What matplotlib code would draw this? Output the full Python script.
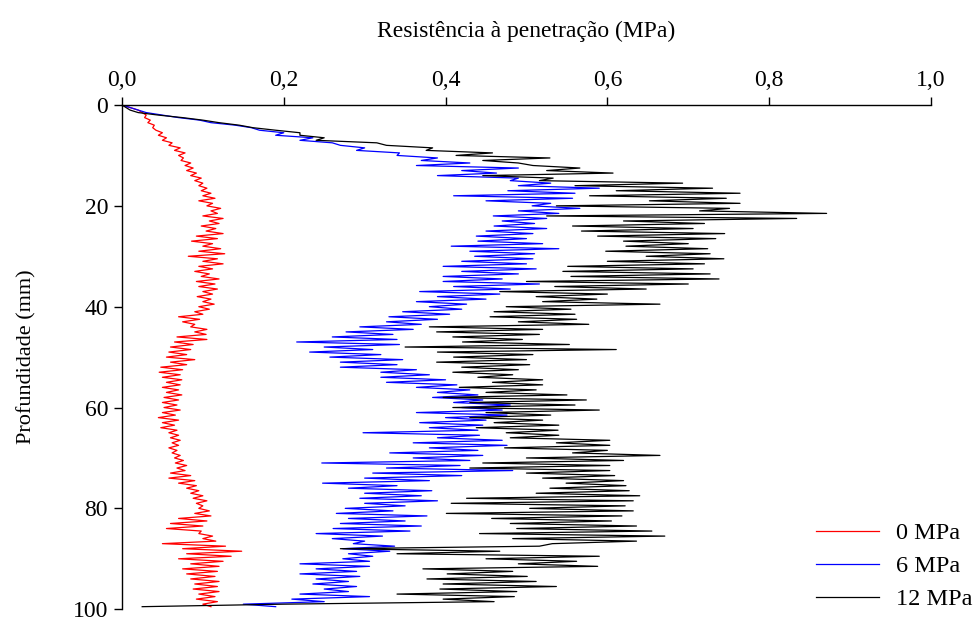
import numpy as np
import matplotlib
matplotlib.use('Agg')
import matplotlib.pyplot as plt

plt.rcParams['font.family'] = ['Liberation Serif', 'DejaVu Serif']

# profundidade (mm), passo de 0,5 mm
prof = np.arange(0, 100, 0.5)

# 0 MPa
r0 = [0.0, 0.01, 0.02, 0.025, 0.03, 0.028, 0.035, 0.032, 0.04, 0.038,
      0.042, 0.05, 0.045, 0.055, 0.05, 0.062, 0.058, 0.072, 0.065, 0.078,
      0.07, 0.076, 0.073, 0.085, 0.078, 0.088, 0.08, 0.092, 0.085, 0.098,
      0.09, 0.1, 0.095, 0.105, 0.098, 0.11, 0.1, 0.115, 0.095, 0.112,
      0.105, 0.122, 0.11, 0.118, 0.1, 0.125, 0.108, 0.12, 0.098, 0.116,
      0.104, 0.125, 0.092, 0.118, 0.086, 0.112, 0.1, 0.122, 0.095, 0.127,
      0.082, 0.118, 0.1, 0.125, 0.095, 0.112, 0.09, 0.108, 0.098, 0.12,
      0.092, 0.115, 0.095, 0.118, 0.1, 0.112, 0.093, 0.11, 0.1, 0.114,
      0.095, 0.108, 0.09, 0.1, 0.07, 0.096, 0.075, 0.09, 0.085, 0.105,
      0.09, 0.104, 0.068, 0.105, 0.065, 0.088, 0.06, 0.085, 0.058, 0.08,
      0.055, 0.09, 0.06, 0.08, 0.048, 0.075, 0.046, 0.072, 0.05, 0.074,
      0.055, 0.072, 0.05, 0.07, 0.055, 0.074, 0.052, 0.07, 0.05, 0.068,
      0.052, 0.072, 0.05, 0.066, 0.045, 0.07, 0.05, 0.065, 0.048, 0.068,
      0.058, 0.07, 0.06, 0.072, 0.062, 0.07, 0.058, 0.068, 0.062, 0.072,
      0.065, 0.076, 0.066, 0.08, 0.068, 0.078, 0.06, 0.085, 0.058, 0.09,
      0.07, 0.092, 0.08, 0.095, 0.085, 0.1, 0.088, 0.105, 0.092, 0.1,
      0.095, 0.108, 0.09, 0.11, 0.07, 0.105, 0.06, 0.1, 0.055, 0.098,
      0.095, 0.112, 0.1, 0.116, 0.05, 0.128, 0.075, 0.148, 0.08, 0.135,
      0.07, 0.125, 0.085, 0.12, 0.075, 0.118, 0.08, 0.115, 0.085, 0.12,
      0.09, 0.118, 0.088, 0.12, 0.095, 0.115, 0.092, 0.118, 0.1, 0.11]

# 6 MPa
r6 = [0.0, 0.01, 0.02, 0.03, 0.05, 0.07, 0.096, 0.11, 0.14, 0.16,
      0.17, 0.2, 0.19, 0.236, 0.22, 0.26, 0.27, 0.30, 0.29, 0.343,
      0.34, 0.39, 0.37, 0.43, 0.364, 0.49, 0.42, 0.463, 0.39, 0.49,
      0.48, 0.53, 0.49, 0.59, 0.477, 0.56, 0.41, 0.557, 0.45, 0.53,
      0.507, 0.566, 0.49, 0.54, 0.459, 0.525, 0.47, 0.51, 0.46, 0.525,
      0.45, 0.508, 0.438, 0.5, 0.44, 0.52, 0.407, 0.54, 0.43, 0.51,
      0.436, 0.508, 0.42, 0.5, 0.397, 0.512, 0.42, 0.49, 0.397, 0.47,
      0.397, 0.516, 0.41, 0.48, 0.368, 0.467, 0.39, 0.45, 0.364, 0.426,
      0.38, 0.42, 0.347, 0.405, 0.33, 0.39, 0.327, 0.37, 0.294, 0.36,
      0.277, 0.335, 0.26, 0.34, 0.216, 0.343, 0.25, 0.31, 0.232, 0.32,
      0.257, 0.347, 0.27, 0.34, 0.27, 0.364, 0.32, 0.38, 0.32, 0.40,
      0.327, 0.414, 0.364, 0.43, 0.39, 0.44, 0.384, 0.446, 0.41, 0.48,
      0.42, 0.47, 0.364, 0.476, 0.4, 0.45, 0.368, 0.446, 0.38, 0.44,
      0.298, 0.442, 0.39, 0.47, 0.36, 0.476, 0.38, 0.44, 0.331, 0.446,
      0.36, 0.43, 0.247, 0.418, 0.327, 0.483, 0.31, 0.42, 0.3, 0.38,
      0.248, 0.34, 0.28, 0.383, 0.3, 0.37, 0.294, 0.39, 0.3, 0.35,
      0.276, 0.335, 0.265, 0.377, 0.28, 0.35, 0.27, 0.37, 0.261, 0.356,
      0.24, 0.322, 0.26, 0.3, 0.286, 0.337, 0.273, 0.331, 0.28, 0.31,
      0.273, 0.306, 0.22, 0.306, 0.24, 0.29, 0.22, 0.294, 0.24, 0.28,
      0.236, 0.29, 0.25, 0.28, 0.22, 0.306, 0.21, 0.25, 0.15, 0.19]

# 12 MPa
r12 = [0.0, 0.005, 0.01, 0.02, 0.045, 0.075, 0.1, 0.12, 0.145, 0.162,
       0.19, 0.22, 0.22, 0.25, 0.24, 0.315, 0.327, 0.384, 0.376, 0.458,
       0.413, 0.529, 0.446, 0.49, 0.508, 0.566, 0.525, 0.607, 0.446, 0.533,
       0.516, 0.693, 0.56, 0.73, 0.611, 0.764, 0.578, 0.747, 0.652, 0.764,
       0.537, 0.751, 0.714, 0.871, 0.525, 0.834, 0.62, 0.72, 0.557, 0.706,
       0.568, 0.745, 0.588, 0.734, 0.62, 0.7, 0.623, 0.724, 0.598, 0.727,
       0.648, 0.744, 0.6, 0.72, 0.551, 0.706, 0.545, 0.727, 0.555, 0.738,
       0.50, 0.70, 0.535, 0.648, 0.467, 0.60, 0.512, 0.587, 0.52, 0.665,
       0.475, 0.555, 0.46, 0.56, 0.455, 0.562, 0.49, 0.577, 0.38, 0.52,
       0.389, 0.516, 0.409, 0.495, 0.421, 0.553, 0.35, 0.611, 0.39, 0.508,
       0.41, 0.5, 0.389, 0.504, 0.42, 0.49, 0.409, 0.483, 0.44, 0.52,
       0.458, 0.52, 0.417, 0.512, 0.45, 0.55, 0.397, 0.574, 0.43, 0.56,
       0.409, 0.59, 0.45, 0.53, 0.43, 0.52, 0.46, 0.54, 0.438, 0.539,
       0.475, 0.54, 0.48, 0.603, 0.537, 0.603, 0.473, 0.6, 0.557, 0.665,
       0.5, 0.62, 0.446, 0.603, 0.43, 0.603, 0.5, 0.609, 0.52, 0.62,
       0.549, 0.623, 0.529, 0.627, 0.512, 0.64, 0.426, 0.632, 0.407, 0.622,
       0.504, 0.632, 0.401, 0.618, 0.457, 0.605, 0.48, 0.636, 0.488, 0.655,
       0.442, 0.671, 0.483, 0.636, 0.532, 0.516, 0.27, 0.467, 0.34, 0.59,
       0.45, 0.562, 0.49, 0.588, 0.372, 0.483, 0.402, 0.501, 0.377, 0.512,
       0.397, 0.537, 0.393, 0.488, 0.34, 0.485, 0.397, 0.46, 0.2, 0.025]

series = [(r0, 'red', '0 MPa'), (r6, 'blue', '6 MPa'), (r12, 'black', '12 MPa')]

fig = plt.figure(figsize=(9.78, 6.21), dpi=100)
ax = fig.add_axes([0.1247, 0.019, 0.8272, 0.8119])

for vals, cor, nome in series:
    ax.plot(vals, prof, color=cor, lw=0.9, label=nome)

ax.set_xlim(0, 1.0)
ax.set_ylim(100, 0)
ax.xaxis.tick_top()
ax.xaxis.set_label_position('top')
ax.set_xticks(np.arange(0, 1.01, 0.2))
ax.set_xticklabels(['0,0', '0,2', '0,4', '0,6', '0,8', '1,0'])
ax.set_yticks(np.arange(0, 101, 20))
ax.tick_params(axis='both', direction='out', length=6, width=1.0, labelsize=17, pad=4)
ax.spines['right'].set_visible(False)
ax.spines['bottom'].set_visible(False)
ax.spines['top'].set_linewidth(1.0)
ax.spines['left'].set_linewidth(1.0)

ax.set_xlabel('Resistência à penetração (MPa)', fontsize=17, labelpad=24)
ax.set_ylabel('Profundidade (mm)', fontsize=16, labelpad=26)

fig.legend(loc='lower right', bbox_to_anchor=(1.012, -0.01), frameon=False,
           fontsize=17.5, handlelength=2.6, labelspacing=0.45, handletextpad=0.7,
           borderaxespad=0.3)

fig.savefig('out.png', dpi=100)
